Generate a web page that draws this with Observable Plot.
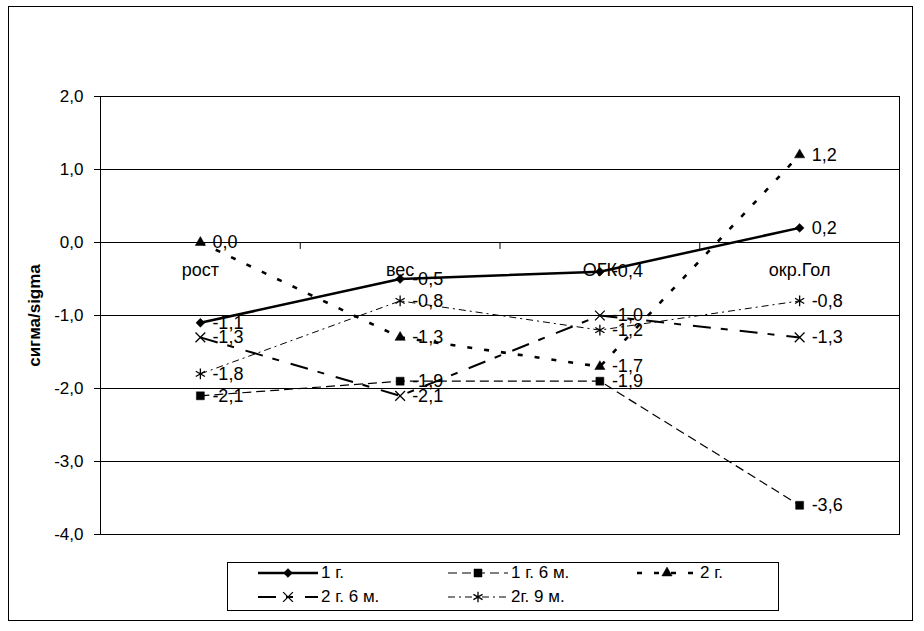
<!DOCTYPE html>
<html>
<head>
<meta charset="utf-8">
<script src="https://cdn.jsdelivr.net/npm/d3@7"></script>
<script src="https://cdn.jsdelivr.net/npm/@observablehq/plot@0.6"></script>
<style>
  body { margin: 0; background: #fff; font-family: Arial, "Liberation Sans", sans-serif; }
  #wrap { position: relative; width: 924px; height: 631px; overflow: hidden; }
  #wrap > svg { position: absolute; left: 0; top: 0; }
  #outer { position: absolute; left: 8px; top: 6px; width: 905px; height: 615px; box-sizing: border-box; border: 1.5px solid #000; pointer-events: none; }
  #legend { position: absolute; left: 227px; top: 562px; width: 552px; height: 49px; box-sizing: border-box; border: 1.5px solid #000; background: #fff; }
  .item { position: absolute; height: 20px; display: flex; align-items: center; font-size: 17px; white-space: nowrap; color: #000; }
  .item svg { display: block; }
  .item span { margin-left: 3px; }
  g[aria-label="y-axis label"] text { font-weight: bold; }
</style>
</head>
<body>
<div id="wrap"></div>
<script>
// ---- data ----
const categories = ["рост", "вес", "ОГК", "окр.Гол"];
const seriesNames = ["1 г.", "1 г. 6 м.", "2 г.", "2 г. 6 м.", "2г. 9 м."];
const v1 = [-1.1, -0.5, -0.4, 0.2];
const v2 = [-2.1, -1.9, -1.9, -3.6];
const v3 = [0.0, -1.3, -1.7, 1.2];
const v4 = [-1.3, -2.1, -1.0, -1.3];
const v5 = [-1.8, -0.8, -1.2, -0.8];
const yTicks = [-4, -3, -2, -1, 0, 1, 2];

const seriesValues = [v1, v2, v3, v4, v5];
const looks = [
  {dash: null, width: 2.5, symbol: "diamond2", d3sym: d3.symbolDiamond2, r: 4, fill: true},
  {dash: "9,5", width: 1.2, symbol: "square", d3sym: d3.symbolSquare, r: 4.5, fill: true},
  {dash: "5,12", width: 2.6, symbol: "triangle", d3sym: d3.symbolTriangle, r: 3.8, fill: true},
  {dash: "18,10,7,12", width: 2, symbol: "times", d3sym: d3.symbolTimes, r: 4.5, fill: false},
  {dash: "7,4,2,4", width: 1, symbol: "asterisk", d3sym: d3.symbolAsterisk, r: 5, fill: false}
];

const fmt = v => v.toFixed(1).replace(".", ",");
const tables = seriesValues.map(vals => vals.map((v, i) => ({i: i + 1, cat: categories[i], v})));

const tickShape = { draw(context, l) { context.moveTo(0, 0); context.lineTo(0, -l); } };

const marks = [
  Plot.ruleY(yTicks, {stroke: "black", strokeWidth: 1}),
  Plot.frame({stroke: "black", strokeWidth: 1}),
  Plot.axisY({ticks: yTicks, tickFormat: fmt, tickSize: 6, tickPadding: 11, fontSize: 17,
    label: "сигма/sigma", labelAnchor: "center", labelArrow: "none", labelOffset: 73}),
  Plot.vector(categories.slice(1), {x: (d, i) => i + 1.5, y: () => 0, length: 6, rotate: 180,
    anchor: "start", shape: tickShape, stroke: "black", strokeWidth: 1}),
  Plot.text(categories, {x: (d, i) => i + 1, y: () => 0, dy: 28, fontSize: 18, fill: "black"})
];

tables.forEach((rows, k) => {
  const L = looks[k];
  marks.push(Plot.line(rows, {x: "i", y: "v", stroke: "black", strokeWidth: L.width,
    strokeDasharray: L.dash || undefined, strokeLinecap: "butt"}));
});
tables.forEach((rows, k) => {
  const L = looks[k];
  marks.push(Plot.dot(rows, {x: "i", y: "v", symbol: L.symbol, r: L.r,
    fill: L.fill ? "black" : "none", stroke: "black", strokeWidth: L.fill ? 0.5 : 1.3}));
});
tables.forEach((rows) => {
  marks.push(Plot.text(rows, {x: "i", y: "v", text: d => fmt(d.v), dx: 12, textAnchor: "start",
    fontSize: 18, fill: "black"}));
});

const chart = Plot.plot({
  width: 924,
  height: 631,
  marginLeft: 100,
  marginRight: 25,
  marginTop: 96,
  marginBottom: 97,
  style: {fontFamily: "Arial, 'Liberation Sans', sans-serif", fontSize: "17px", background: "white", color: "black"},
  x: {type: "linear", domain: [0.5, categories.length + 0.5], axis: null},
  y: {domain: [-4, 2], axis: null},
  marks
});

const wrap = document.getElementById("wrap");
wrap.appendChild(chart);

// ---- legend ----
const legend = document.createElement("div");
legend.id = "legend";
wrap.appendChild(legend);

const legendSlots = [[258, 573], [448, 573], [637, 573], [258, 597], [448, 597]];
seriesNames.forEach((name, k) => {
  const L = looks[k];
  const [x, y] = legendSlots[k];
  const item = document.createElement("div");
  item.className = "item";
  item.style.left = x + "px";
  item.style.top = (y - 10) + "px";
  const size = Math.PI * L.r * L.r;
  const d = d3.symbol(L.d3sym, size)();
  const svg = `<svg width="60" height="16" viewBox="0 0 60 16">
    <line x1="0" x2="60" y1="8" y2="8" stroke="black" stroke-width="${L.width}" ${L.dash ? `stroke-dasharray="${L.dash}"` : ""}/>
    <path transform="translate(30,8)" d="${d}" fill="${L.fill ? "black" : "none"}" stroke="black" stroke-width="${L.fill ? 0.5 : 1.3}"/>
  </svg>`;
  item.innerHTML = svg + `<span>${name}</span>`;
  wrap.appendChild(item);
});

const outer = document.createElement("div");
outer.id = "outer";
wrap.appendChild(outer);
</script>
</body>
</html>
